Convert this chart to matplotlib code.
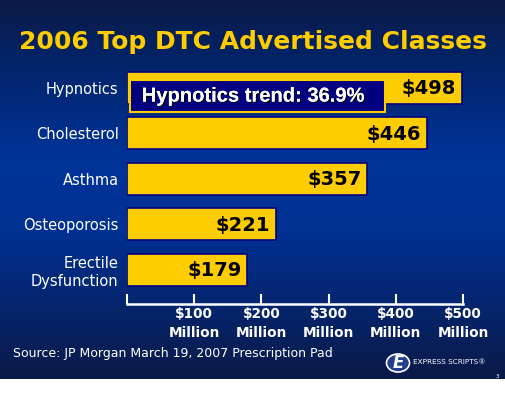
import matplotlib
matplotlib.use("Agg")
import matplotlib.pyplot as plt
import matplotlib.patheffects as pe
from matplotlib.patches import Rectangle, Circle
import numpy as np

# data
categories = ["Hypnotics", "Cholesterol", "Asthma", "Osteoporosis", "Erectile\nDysfunction"]
spend = [498, 446, 357, 221, 179]
value_labels = ["$498", "$446", "$357", "$221", "$179"]
tick_values = [0, 100, 200, 300, 400, 500]
tick_labels = ["", "$100\nMillion", "$200\nMillion", "$300\nMillion", "$400\nMillion", "$500\nMillion"]
title = "2006 Top DTC Advertised Classes"
note = "Hypnotics trend: 36.9%"
source = "Source: JP Morgan March 19, 2007 Prescription Pad"

gold = "#FFCC00"
navy = "#000080"

fig = plt.figure(figsize=(5.05, 3.97), dpi=100)
fig.patch.set_facecolor("white")

# slide background (vertical gradient), white strip below
bg = fig.add_axes([0, 18 / 397, 1, 379 / 397])
ys = np.linspace(0, 1, 200)
stops_y = [0.0, 0.16, 0.42, 0.62, 1.0]
stops_c = np.array([[12, 26, 70], [2, 36, 105], [0, 51, 153], [0, 48, 145], [10, 26, 72]]) / 255
grad = np.stack([np.interp(ys, stops_y, stops_c[:, k]) for k in range(3)], axis=-1)
bg.imshow(grad[:, None, :], aspect="auto", extent=[0, 1, 1, 0])
bg.set_xlim(0, 1)
bg.set_ylim(1, 0)
bg.axis("off")

fig.text(0.5, 1 - 42 / 397, title, ha="center", va="center", color=gold,
         fontsize=18, fontweight="heavy", family="DejaVu Sans")

ax = fig.add_axes([127 / 505, 93 / 397, (510 * 0.672) / 505, 243.4 / 397])
ax.patch.set_alpha(0)
ypos = np.arange(len(categories))
ax.barh(ypos, spend, height=0.7, color=gold, edgecolor=navy, linewidth=1.2, zorder=2)
ax.set_xlim(0, 510)
ax.set_ylim(4.75, -0.6)

for y, v, lab in zip(ypos, spend, value_labels):
    ax.text(v - 8, y + 0.02, lab, ha="right", va="center", color="black",
            fontsize=14, fontweight="bold", zorder=4)

ax.set_yticks(ypos)
ax.set_yticklabels(categories, color="white", fontsize=10.5)
ax.tick_params(axis="y", length=0, pad=6)

ax.set_xticks(tick_values)
ax.set_xticklabels(tick_labels, color="white", fontsize=9.8, fontweight="bold", linespacing=1.45)
ax.tick_params(axis="x", direction="in", length=7, width=1.5, color="white", pad=2)
for s in ["top", "right", "left"]:
    ax.spines[s].set_visible(False)
ax.spines["bottom"].set_color("white")
ax.spines["bottom"].set_linewidth(1.8)
ax.spines["bottom"].set_bounds(0, 500)

# trend callout
ax.add_patch(Rectangle((4.5, -0.18), 379, 0.71, facecolor=navy, edgecolor=gold,
                       linewidth=1.5, zorder=5))
ax.text(22, 0.18, note, ha="left", va="center", color="white", fontsize=14.5,
        fontweight="bold", family="Liberation Sans", zorder=6,
        path_effects=[pe.withSimplePatchShadow(offset=(0.8, -0.8), shadow_rgbFace="black", alpha=0.9),
                      pe.Normal()])

fig.text(13 / 505, 1 - 353 / 397, source, ha="left", va="center", color="white", fontsize=9)

# logo
fig.patches.append(Circle((398 / 505, 1 - 363 / 397), 11.5 / 505, transform=fig.transFigure,
                          facecolor="#22408f", edgecolor="white", linewidth=1.2))
fig.text(398 / 505, 1 - 363 / 397, "E", ha="center", va="center", color="white",
         fontsize=12, fontweight="bold", style="italic")
fig.text(413 / 505, 1 - 362 / 397, "EXPRESS SCRIPTS\u00ae", ha="left", va="center",
         color="white", fontsize=5.2, family="DejaVu Sans")
fig.text(497 / 505, 1 - 377 / 397, "3", ha="center", va="center", color="white", fontsize=4)

fig.savefig("out.png", dpi=100, facecolor=fig.get_facecolor())
